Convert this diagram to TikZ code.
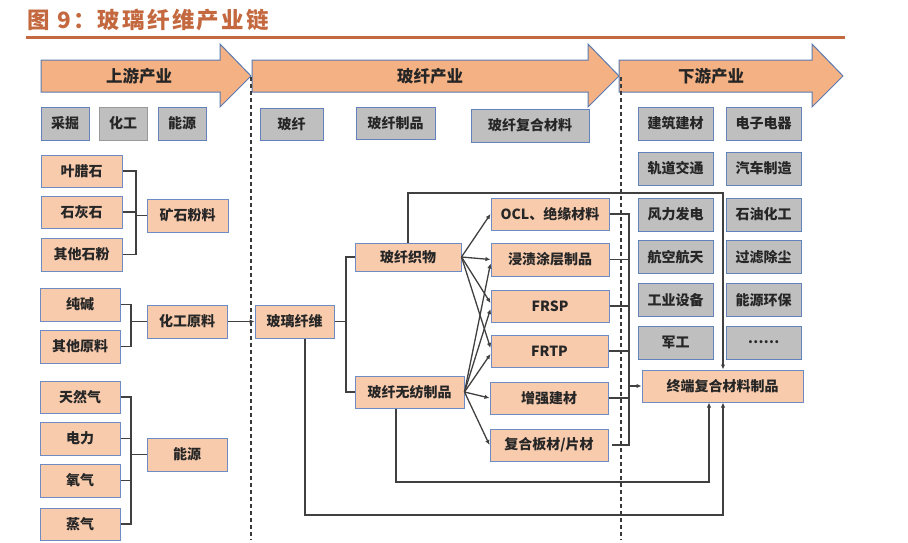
\documentclass[tikz,border=0pt]{standalone}
\usepackage{fontspec}
\setmainfont{Noto Sans CJK SC}
\newfontfamily\titlefont{Noto Sans CJK SC}[LetterSpace=10]
\usetikzlibrary{arrows.meta,calc}
\definecolor{titlec}{HTML}{C4693F}
\definecolor{arrfill}{HTML}{F4B183}
\definecolor{arrbdr}{HTML}{5A7AB0}
\definecolor{ofill}{HTML}{F8CBAD}
\definecolor{obdr}{HTML}{6E8CC4}
\definecolor{gfill}{HTML}{BFBFBF}
\definecolor{gbdr}{HTML}{6381BA}
\definecolor{linec}{HTML}{404040}
\definecolor{txt}{HTML}{262626}
\tikzset{
  basebox/.style={draw, line width=1pt, inner sep=0pt, text=txt, font=\fontsize{14}{16}\selectfont\bfseries},
  ob/.style={basebox, draw=obdr, fill=ofill},
  gb/.style={basebox, draw=gbdr, fill=gfill},
  bigarrow/.style={fill=arrfill, draw=arrbdr, line width=1pt},
  arrlabel/.style={text=txt, font=\fontsize{16.5}{18}\selectfont\bfseries},
  conn/.style={draw=linec, line width=1.3pt},
  arr/.style={conn, -{Latex[length=5pt,width=4.5pt]}},
  divider/.style={draw=linec!90!black, line width=1.1pt, dash pattern=on 4pt off 3pt}
}
\begin{document}
\begin{tikzpicture}[x=1pt,y=-1pt]
\useasboundingbox (0,0) rectangle (908,542);
% title
\node[anchor=west, text=titlec, font=\titlefont\fontsize{22.5}{26}\selectfont\bfseries, inner sep=0pt] (title) at (27,20) {图 9：玻璃纤维产业链};
\draw[titlec, line width=2.6pt] (26,37.5) -- (845,37.5);
% big arrows
\draw[bigarrow] (41,60) -- (220,60) -- (220,44) -- (251,76) -- (220,107) -- (220,92) -- (41,92) -- cycle;
\draw[bigarrow] (252,60) -- (588,60) -- (588,44) -- (619,76) -- (588,107) -- (588,92) -- (252,92) -- cycle;
\draw[bigarrow] (619,60) -- (812,60) -- (812,44) -- (843,76) -- (812,107) -- (812,92) -- (619,92) -- cycle;
\node[arrlabel] (l1) at (139,76) {上游产业};
\node[arrlabel] (l2) at (430,76) {玻纤产业};
\node[arrlabel] (l3) at (711,76) {下游产业};
% dividers
\coordinate (d1a) at (251,77); \coordinate (d1b) at (251,540);
\coordinate (d2a) at (621,77); \coordinate (d2b) at (621,540);
\draw[divider] (d1a) -- (d1b);
\draw[divider] (d2a) -- (d2b);
% top gray boxes
\node[gb, minimum width=48pt, minimum height=33pt] (cj) at (65,123.5) {采掘};
\node[gb, minimum width=48pt, minimum height=33pt, draw=gfill!80!black] (hg) at (123,123.5) {化工};
\node[gb, minimum width=48pt, minimum height=33pt] (ny) at (182,123.5) {能源};
\node[gb, minimum width=63pt, minimum height=32pt] (bx) at (291.5,124) {玻纤};
\node[gb, minimum width=79pt, minimum height=32pt] (bxzp) at (395.5,123) {玻纤制品};
\node[gb, minimum width=118pt, minimum height=33pt] (bxfh) at (530,125.5) {玻纤复合材料};
% downstream gray boxes
\foreach \n/\t/\x/\y in {a1/建筑建材/675.5/123.5, a2/电子电器/763.5/123.5,
  b1x/轨道交通/675.5/168.5, b2x/汽车制造/763.5/168.5,
  c1x/风力发电/675.5/214.5, c2x/石油化工/763.5/214.5,
  d1x/航空航天/675.5/257, d2x/过滤除尘/763.5/257,
  e1x/工业设备/675.5/300, e2x/能源环保/763.5/300,
  f1x/军工/675.5/342.5, f2x/……/763.5/342.5}
  \node[gb, minimum width=75pt, minimum height=33pt] (\n) at (\x,\y) {\t};
\node[ob, minimum width=161pt, minimum height=32pt] (zd) at (722.5,386) {终端复合材料制品};
% upstream orange boxes
\node[ob, minimum width=81pt, minimum height=32pt] (ylsh) at (81.5,171) {叶腊石};
\node[ob, minimum width=81pt, minimum height=32pt] (shs) at (81.5,212) {石灰石};
\node[ob, minimum width=81pt, minimum height=33pt] (qtsf) at (81.5,254.5) {其他石粉};
\node[ob, minimum width=81pt, minimum height=33pt] (kssl) at (187.5,215.5) {矿石粉料};
\node[ob, minimum width=80pt, minimum height=33pt] (cjn) at (80,304.5) {纯碱};
\node[ob, minimum width=80pt, minimum height=33pt] (qtyl) at (80,346.5) {其他原料};
\node[ob, minimum width=80pt, minimum height=33pt] (hgyl) at (187,321.5) {化工原料};
\node[ob, minimum width=80pt, minimum height=32pt] (trq) at (80,397) {天然气};
\node[ob, minimum width=80pt, minimum height=33pt] (dl) at (80,438.5) {电力};
\node[ob, minimum width=80pt, minimum height=33pt] (yq) at (80,480.5) {氧气};
\node[ob, minimum width=80pt, minimum height=32pt] (zq) at (80,524) {蒸气};
\node[ob, minimum width=80pt, minimum height=33pt] (nyb) at (187,454.5) {能源};
% glass fibre industry
\node[ob, minimum width=79pt, minimum height=33pt] (blxw) at (294.5,321.5) {玻璃纤维};
\node[ob, minimum width=106pt, minimum height=28pt] (zw) at (408,257) {玻纤织物};
\node[ob, minimum width=109pt, minimum height=32pt] (wf) at (409.5,392) {玻纤无纺制品};
\node[ob, minimum width=118pt, minimum height=32pt] (ocl) at (550,214) {OCL、绝缘材料};
\node[ob, minimum width=118pt, minimum height=33pt] (jz) at (550,259.5) {浸渍涂层制品};
\node[ob, minimum width=118pt, minimum height=32pt] (frsp) at (550,306) {FRSP};
\node[ob, minimum width=117pt, minimum height=32pt] (frtp) at (549.5,351) {FRTP};
\node[ob, minimum width=118pt, minimum height=32pt] (zqjc) at (549,398) {增强建材};
\node[ob, minimum width=118pt, minimum height=32pt] (fhbc) at (549,445) {复合板材/片材};
% upstream brackets
\coordinate (br1) at (136,215.5);
\draw[conn] (ylsh.east) -| (br1) |- (qtsf.east);
\draw[conn] (shs.east) -- (br1 |- shs.east);
\draw[conn] (br1) -- (kssl.west);
\coordinate (br2) at (131,321.5);
\draw[conn] (cjn.east) -| (br2) |- (qtyl.east);
\draw[conn] (br2) -- (hgyl.west);
\coordinate (br3) at (131,454.5);
\draw[conn] (trq.east) -| (br3) |- (zq.east);
\draw[conn] (dl.east) -- (br3 |- dl.east);
\draw[conn] (yq.east) -- (br3 |- yq.east);
\draw[conn] (br3) -- (nyb.west);
\draw[arr] (hgyl.east) -- (blxw.west);
% glass fibre split
\coordinate (sp) at (346,321.5);
\draw[conn] (blxw.east) -- (sp);
\draw[conn] (zw.west) -| (sp) |- (wf.west);
% crossing arrows
\draw[arr] (zw.east) -- (ocl.west);
\draw[arr] (zw.east) -- (jz.west);
\draw[arr] (zw.east) -- ([yshift=3pt]frsp.west);
\draw[arr] (zw.east) -- ([yshift=3pt]frtp.west);
\draw[arr] (wf.east) -- ([yshift=-4pt]jz.west);
\draw[arr] (wf.east) -- ([yshift=-3pt]frsp.west);
\draw[arr] (wf.east) -- ([yshift=-3pt]frtp.west);
\draw[arr] (wf.east) -- (zqjc.west);
\draw[arr] (wf.east) -- (fhbc.west);
% right collector
\coordinate (col) at (629,386);
\draw[conn] (ocl.east) -| (col);
\draw[conn] ([xshift=3pt]fhbc.east) -| (col);
\draw[conn] (jz.east) -- (col |- jz.east);
\draw[conn] (frsp.east) -- (col |- frsp.east);
\draw[conn] (frtp.east) -- (col |- frtp.east);
\draw[conn] (zqjc.east) -- (col |- zqjc.east);
\draw[arr] (col) -- (zd.west);
% long loops
\coordinate (t1) at (723,193);
\draw[arr] (zw.north) |- (t1) -- (t1 |- zd.north);
\coordinate (b2) at (723,515);
\draw[arr] ([xshift=10.5pt]blxw.south) |- (b2) -- (b2 |- zd.south);
\coordinate (b3) at (709,482);
\draw[arr] ([xshift=-13.5pt]wf.south) |- (b3) -- (b3 |- zd.south);
\end{tikzpicture}
\end{document}
